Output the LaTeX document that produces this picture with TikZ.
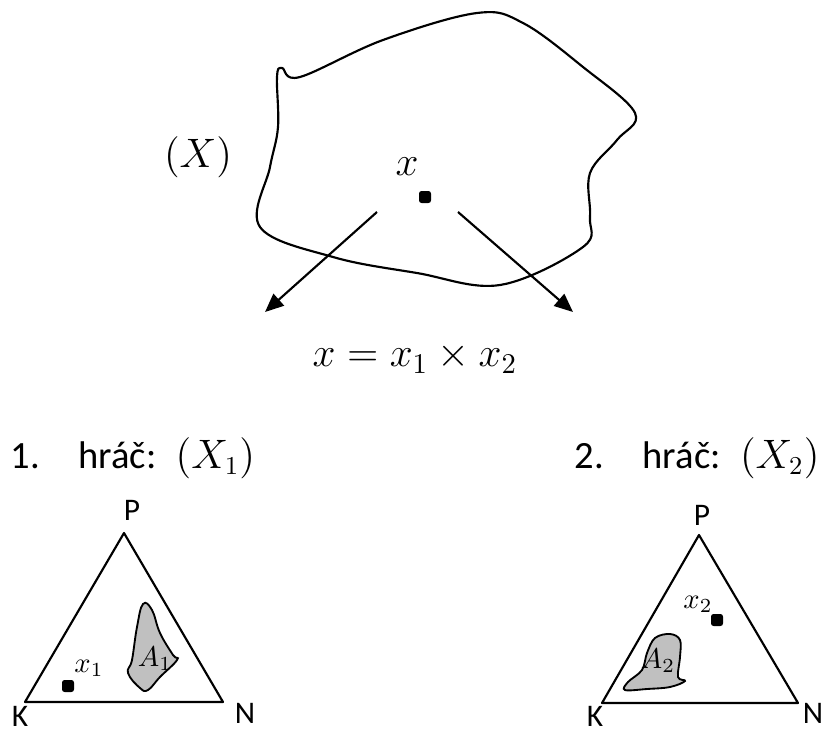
\documentclass[tikz,border=0pt]{standalone}
\usepackage{fontspec}
\setmainfont{Carlito}
\usetikzlibrary{arrows.meta,positioning}
\definecolor{regiongray}{HTML}{C0C0C0}

\begin{document}
\begin{tikzpicture}[x=0.35pt,y=-0.35pt,
  outline/.style={line width=0.75pt, line join=round},
  region/.style={draw, line width=0.65pt, fill=regiongray},
  profile/.style={fill=black, rounded corners=0.9pt, minimum size=4.2pt, inner sep=0pt},
  map/.style={line width=0.75pt, -{Triangle[length=6.5pt,width=5.5pt]}},
  vertex/.style={font=\fontsize{11}{13}\selectfont, inner sep=0pt},
  player/.style={font=\fontsize{13.5}{16}\selectfont, inner sep=0pt},
  bigmath/.style={font=\fontsize{14}{16}\selectfont, inner sep=0pt},
  smallmath/.style={font=\fontsize{10}{12}\selectfont, inner sep=0pt},
]
\useasboundingbox (0,0) rectangle (823,731);

% space of strategy profiles
\draw[outline] plot[smooth cycle, tension=0.6] coordinates {
  (282,68) (300,77) (383,40) (477,13) (523,23) (583,67) (635,113)
  (617,140) (590,173) (590,217) (583,247) (500,285) (417,273)
  (333,257) (260,227) (270,167) (278,127) (277,77)};
\node[bigmath] (spaceX) at (198,157) {$(X)$};
\node[profile] (x) at (425,197) {};
\node[bigmath] (xlab) at (407,167) {$x$};

\coordinate (mapL) at (377,212);
\coordinate (mapR) at (458,212);
\coordinate (tipL) at (265,312);
\coordinate (tipR) at (573,312);
\draw[map] (mapL) -- (tipL);
\draw[map] (mapR) -- (tipR);

\node[bigmath] (prod) at (415,358) {$x = x_1 \times x_2$};

\node[player, anchor=west] (pl1) at (10,458) {1.\quad hráč:\enspace $(X_1)$};
\node[player, anchor=east] (pl2) at (820,458) {2.\quad hráč:\enspace $(X_2)$};

% simplex of player 1
\coordinate (P1) at (124,533);
\coordinate (K1) at (25,702);
\coordinate (N1) at (223,702);
\draw[outline] (K1) -- (P1) -- (N1) -- cycle;
\node[vertex] (labP1) at (132,510) {P};
\node[vertex] (labK1) at (20,716) {K};
\node[vertex] (labN1) at (245,713) {N};
\draw[region] plot[smooth cycle, tension=0.7] coordinates {
  (143,604) (137,627) (132,660) (128,673) (140,688) (148,690)
  (160,677) (177,660) (173,655) (160,633) (152,610)};
\node[smallmath] (A1) at (155,659) {$A_1$};
\node[profile] (x1) at (68,686) {};
\node[smallmath] (x1lab) at (89,668) {$x_1$};

% simplex of player 2
\coordinate (P2) at (699,535);
\coordinate (K2) at (602,703);
\coordinate (N2) at (798,703);
\draw[outline] (K2) -- (P2) -- (N2) -- cycle;
\node[vertex] (labP2) at (702,515) {P};
\node[vertex] (labK2) at (595,716) {K};
\node[vertex] (labN2) at (813,713) {N};
\draw[region] plot[smooth cycle, tension=0.6] coordinates {
  (625,690) (628,682) (642,670) (647,653) (655,638) (670,634)
  (680,640) (680,657) (678,677) (685,681) (670,687) (647,689)};
\node[smallmath] (A2) at (658,661) {$A_2$};
\node[profile] (x2) at (717,620) {};
\node[smallmath] (x2lab) at (698,604) {$x_2$};
\end{tikzpicture}
\end{document}
